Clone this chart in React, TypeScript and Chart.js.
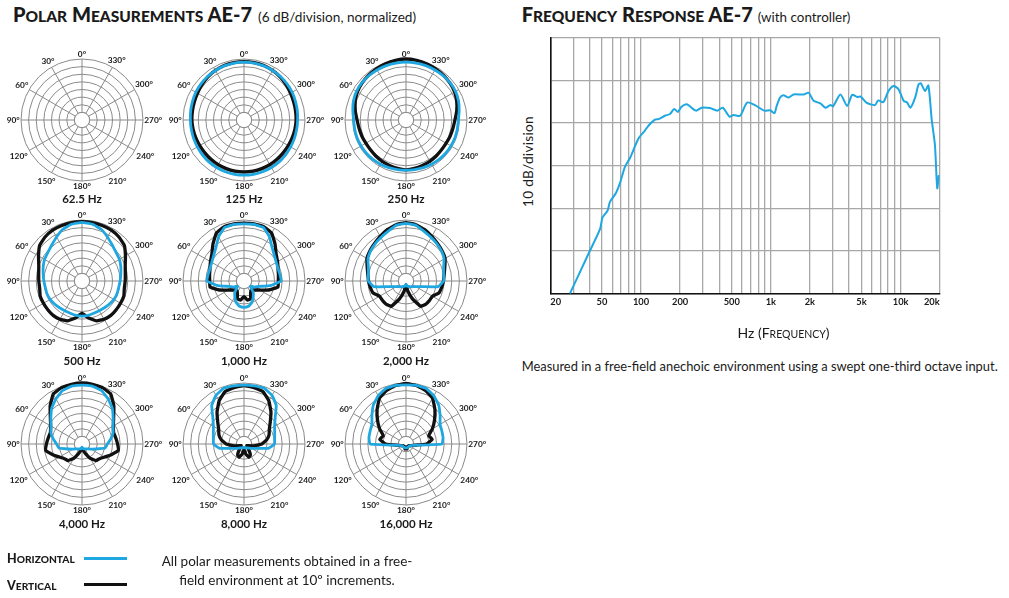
import React, { useEffect, useRef } from "react";
import { Chart, registerables } from "chart.js";

Chart.register(...registerables);

const BLUE = "#1ea7e1";
const BLACK = "#111111";
const POLAR_GRID = "#8a8a8a";
const FR_GRID = "#a8a8a8";
const TEXT = "#1a1a1a";
const FONT = "Lato, 'Noto Sans', sans-serif";

// ---------- polar data: dB relative to on-axis, angles 0..350 (counter-clockwise from top) ----------
const ANGLES = [0, 10, 20, 30, 40, 50, 60, 70, 80, 90, 100, 110, 120, 130, 140, 150, 160, 170, 180, 190, 200, 210, 220, 230, 240, 250, 260, 270, 280, 290, 300, 310, 320, 330, 340, 350];
const SPOKE_EVERY = 3; // a spoke and a label every 30°
const RING_MIN = -48;
const RING_MAX = 0;
const RING_STEP = 6;

const H_62: number[] = [];
const V_62: number[] = [];

const H_125 = [-2.5, -2.5, -2.7, -3, -3.4, -3.8, -4.3, -4.9, -5.4, -5.8, -5.9, -5.8, -5.6, -5.3, -5, -4.8, -4.7, -4.6, -4.6, -4.6, -4.7, -4.8, -5, -5.3, -5.6, -5.8, -5.9, -5.8, -5.4, -4.9, -4.3, -3.8, -3.4, -3, -2.7, -2.5];
const V_125 = [-2, -2.1, -2.4, -3, -3.8, -4.8, -5.8, -6.4, -6.8, -7, -7.3, -7.6, -7.8, -7.8, -7.6, -7.4, -7.3, -7.2, -7.2, -7.2, -7.3, -7.4, -7.6, -7.8, -7.8, -7.6, -7.3, -7, -6.8, -6.4, -5.8, -4.8, -3.8, -3, -2.4, -2.1];

const H_250 = [-2.5, -2.5, -2.5, -2.5, -2.5, -2.6, -3, -4, -5.5, -6.8, -7, -7, -7.2, -7.3, -7.5, -7.8, -8.1, -8.4, -8.5, -8.4, -8.1, -7.8, -7.5, -7.3, -7.2, -7, -7, -6.8, -5.5, -4, -3, -2.6, -2.5, -2.5, -2.5, -2.5];
const V_250 = [0, -0.3, -0.8, -1.5, -2.1, -2.8, -3.8, -5.5, -7.5, -9.5, -10.5, -11, -11.5, -11.5, -11, -10.5, -10, -9.3, -8.8, -9.3, -10, -10.5, -11, -11.5, -11.5, -11, -10.5, -9.5, -7.5, -5.5, -3.8, -2.8, -2.1, -1.5, -0.8, -0.3];

const H_500 = [-1.8, -2.5, -4.5, -8, -11, -13, -14, -15.5, -17, -18, -18.7, -18.7, -19, -19.8, -20.5, -21, -21, -20.5, -20.3, -20.5, -21, -21, -20.5, -19.8, -19, -18.7, -18.7, -18, -17, -15.5, -14, -13, -11, -8, -4.5, -2.5];
const V_500 = [-1.3, -1.3, -1.5, -1.8, -2.8, -4.5, -8.5, -11.8, -13.4, -14, -14.2, -13, -13, -12.9, -12.7, -13.2, -14.6, -18.5, -22.5, -18.5, -14.6, -13.2, -12.7, -12.9, -13, -13, -14.2, -14, -13.4, -11.8, -8.5, -4.5, -2.8, -1.8, -1.5, -1.3];

const H_1K = [-3, -2.8, -3.2, -8, -13.6, -16.8, -18.7, -19.5, -19.3, -18.8, -27, -35.5, -38.5, -41.5, -37, -33.5, -30, -27.8, -27.3, -27.8, -30, -33.5, -37, -41.5, -38.5, -35.5, -27, -18.8, -19.3, -19.5, -18.7, -16.8, -13.6, -8, -3.2, -2.8];
const V_1K = [-2.5, -2.3, -2.5, -4.5, -10, -15, -17.5, -19.5, -20.5, -21, -20.8, -27.3, -33.8, -37, -38.8, -37.5, -33, -32.8, -35.7, -32.8, -33, -37.5, -38.8, -37, -33.8, -27.3, -20.8, -21, -20.5, -19.5, -17.5, -15, -10, -4.5, -2.5, -2.3];

const H_2K = [-2.6, -3.5, -6.5, -8.5, -10, -11.5, -13.4, -16.5, -17.9, -18.4, -22.3, -35, -39, -41, -42, -43, -43.5, -44, -45.5, -44, -43.5, -43, -42, -41, -39, -35, -22.3, -18.4, -17.9, -16.5, -13.4, -11.5, -10, -8.5, -6.5, -3.5];
const V_2K = [-2, -3, -5, -7.5, -9.5, -11, -12.5, -15.5, -17.5, -18.5, -19.5, -20.5, -24, -24, -24, -25, -33, -40, -45, -40, -33, -25, -24, -24, -24, -20.5, -19.5, -18.5, -17.5, -15.5, -12.5, -11, -9.5, -7.5, -5, -3];

const H_4K = [-1.6, -1.7, -3.2, -7, -11, -16, -19.8, -22, -25, -28, -29.5, -36.5, -40, -42, -43, -43.5, -44, -44.5, -45.5, -44.5, -44, -43.5, -43, -42, -40, -36.5, -29.5, -28, -25, -22, -19.8, -16, -11, -7, -3.2, -1.7];
const V_4K = [0, -0.3, -0.8, -2.7, -9, -15.5, -19.5, -21.5, -21, -20, -19, -23.5, -27.5, -30, -31, -35, -40, -43, -45, -43, -40, -35, -31, -30, -27.5, -23.5, -19, -20, -21, -21.5, -19.5, -15.5, -9, -2.7, -0.8, -0.3];

const H_8K = [-1.6, -1.5, -1.4, -3.8, -8.5, -16, -20.2, -22.3, -23.5, -24, -28.5, -38, -41, -43, -44, -44.5, -45, -45, -45.5, -45, -45, -44.5, -44, -43, -41, -38, -28.5, -24, -23.5, -22.3, -20.2, -16, -8.5, -3.8, -1.4, -1.5];
const V_8K = [-2, -2.9, -4.2, -8.9, -15, -21, -25, -27, -30, -34, -40, -44, -45.5, -45, -42, -38, -37, -40, -44, -40, -37, -38, -42, -45, -45.5, -44, -40, -34, -30, -27, -25, -21, -15, -8.9, -4.2, -2.9];

const H_16K = [-1.5, -1.2, -1.5, -4.2, -8, -13, -17, -18, -18.4, -19.7, -42, -44.5, -45, -45, -45, -45, -45, -45, -45, -45, -45, -45, -45, -45, -45, -44.5, -42, -19.7, -18.4, -18, -17, -13, -8, -4.2, -1.5, -1.2];
const V_16K = [-0.3, -1.2, -3.2, -6.3, -12.6, -18.7, -24, -29, -27, -32, -42, -44, -45.5, -45.5, -45.5, -45.5, -45, -44, -46, -44, -45, -45.5, -45.5, -45.5, -45.5, -44, -42, -32, -27, -29, -24, -18.7, -12.6, -6.3, -3.2, -1.2];

const PANEL_TITLES = ["62.5 Hz", "125 Hz", "250 Hz", "500 Hz", "1,000 Hz", "2,000 Hz", "4,000 Hz", "8,000 Hz", "16,000 Hz"];
const PANEL_H = [H_62, H_125, H_250, H_500, H_1K, H_2K, H_4K, H_8K, H_16K];
const PANEL_V = [V_62, V_125, V_250, V_500, V_1K, V_2K, V_4K, V_8K, V_16K];
const COL_X = [82, 244, 406];
const ROW_Y = [120, 281, 444];
const TITLE_TOP = [192.7, 354.7, 517.7];

// ---------- frequency response data ----------
const FREQ_HZ = [28.3, 39.3, 48.3, 50.4, 55.3, 57.6, 64.1, 68.8, 75.3, 82.2, 95.4, 107, 115.8, 128, 136, 153, 167, 180, 192, 205, 225, 265, 293, 340, 388, 426, 480, 516, 579, 658, 754, 890, 986, 1066, 1110, 1178, 1252, 1370, 1498, 1790, 1958, 2137, 2407, 2632, 2878, 3017, 3437, 3872, 4238, 4634, 4920, 5440, 6340, 6720, 7360, 8060, 8820, 9640, 10560, 11220, 11900, 12950, 13720, 14300, 15440, 16360, 17340, 18380, 19140, 19700];
const FREQ_DB = [0, 9.3, 15.1, 17.8, 19.5, 21.5, 23.6, 25.9, 29.8, 31.8, 36.3, 38.2, 39.6, 40.8, 40.9, 41.7, 42.1, 43.3, 42.6, 43.8, 44.4, 42.9, 43.6, 43.5, 42.9, 43.6, 41.5, 41.9, 41.7, 44.8, 44.2, 42.9, 43.0, 42.3, 44.0, 46.0, 46.5, 46.0, 46.7, 46.7, 47.1, 45.2, 44.6, 43.6, 44.2, 43.9, 46.7, 44.0, 46.6, 46.1, 46.2, 44.8, 44.2, 45.3, 44.9, 47.5, 48.7, 47.9, 45.2, 44.8, 43.6, 46.0, 49.0, 49.3, 47.5, 48.8, 40.9, 34.8, 24.7, 27.8];
const GRID_HZ = [20, 30, 40, 50, 60, 70, 80, 90, 100, 200, 300, 400, 500, 600, 700, 800, 900, 1000, 2000, 3000, 4000, 5000, 6000, 7000, 8000, 9000, 10000, 20000];
const XTICK_VALUES = [20, 50, 100, 200, 500, 1000, 2000, 5000, 10000, 20000];
const XTICK_TEXT = ["20", "50", "100", "200", "500", "1k", "2k", "5k", "10k", "20k"];

// ---------- plugins ----------
// white centre disc + 30° spokes that start at the disc edge
const holePlugin = {
  id: "hole",
  beforeDatasetsDraw(chart: any) {
    const s = chart.scales.r;
    const r0 = s.getDistanceFromCenterForValue(RING_MIN + RING_STEP);
    const R = s.getDistanceFromCenterForValue(RING_MAX);
    const n = chart.data.labels.length;
    const ctx = chart.ctx;
    ctx.save();
    ctx.beginPath();
    ctx.arc(s.xCenter, s.yCenter, r0, 0, Math.PI * 2);
    ctx.fillStyle = "#ffffff";
    ctx.fill();
    ctx.lineWidth = 1;
    ctx.strokeStyle = POLAR_GRID;
    ctx.stroke();
    ctx.beginPath();
    for (let i = 0; i < n; i += SPOKE_EVERY) {
      const p0 = s.getPointPosition(i, r0);
      const p1 = s.getPointPosition(i, R);
      ctx.moveTo(p0.x, p0.y);
      ctx.lineTo(p1.x, p1.y);
    }
    ctx.stroke();
    ctx.restore();
  },
};

const degreePlugin = {
  id: "degrees",
  afterDraw(chart: any) {
    const s = chart.scales.r;
    const ctx = chart.ctx;
    const labels = chart.data.labels as string[];
    const R = s.drawingArea;
    ctx.save();
    ctx.font = `bold 8.3px ${FONT}`;
    ctx.fillStyle = TEXT;
    ctx.textAlign = "center";
    ctx.textBaseline = "middle";
    for (let i = 0; i < labels.length; i += SPOKE_EVERY) {
      const a = s.getIndexAngle(i);
      const sx = Math.sin(a);
      const cy = Math.cos(a);
      const w = ctx.measureText(labels[i]).width;
      const h = 6;
      const off = R + 1.3 + Math.abs(sx) * w / 2 + Math.abs(cy) * h / 2 + (cy < -0.1 ? 1.5 : 0);
      ctx.fillText(labels[i], s.xCenter + sx * off, s.yCenter - cy * off);
    }
    ctx.restore();
  },
};

function reorder(arr: number[]) {
  // radar runs clockwise; the reference angles run counter-clockwise
  return arr.length ? ANGLES.map((_, i) => arr[(36 - i) % 36]) : [];
}

function Polar({ title, h, v, cx, cy, titleTop }: any) {
  const ref = useRef<HTMLCanvasElement>(null);
  useEffect(() => {
    const labels = ANGLES.map((_, i) => ANGLES[(36 - i) % 36] + "°");
    const chart = new Chart(ref.current as HTMLCanvasElement, {
      type: "radar",
      data: {
        labels,
        datasets: [
          { label: "Horizontal", data: reorder(h), borderColor: BLUE, borderWidth: 2.8, pointRadius: 0, fill: false, tension: 0.1, borderJoinStyle: "round" } as any,
          { label: "Vertical", data: reorder(v), borderColor: BLACK, borderWidth: 3.3, pointRadius: 0, fill: false, tension: 0.1, borderJoinStyle: "round" } as any,
        ],
      },
      options: {
        responsive: false,
        animation: false,
        layout: { padding: { left: 19, right: 19, top: 14, bottom: 14 } },
        plugins: { legend: { display: false }, tooltip: { enabled: false } },
        scales: {
          r: {
            min: RING_MIN,
            max: RING_MAX,
            ticks: { display: false, stepSize: RING_STEP },
            grid: { color: POLAR_GRID, lineWidth: 1, circular: true },
            angleLines: { display: false },
            pointLabels: { display: false },
          },
        },
      } as any,
      plugins: [holePlugin, degreePlugin],
    });
    return () => chart.destroy();
  }, []);
  return (
    <>
      <canvas ref={ref} width={160} height={150} style={{ position: "absolute", left: cx - 80, top: cy - 75, width: 160, height: 150 }} />
      <div style={{ position: "absolute", left: cx - 60, width: 120, top: titleTop, textAlign: "center", fontSize: 11.5, lineHeight: "12px", fontWeight: 700, color: TEXT }}>{title}</div>
    </>
  );
}

function FreqChart() {
  const ref = useRef<HTMLCanvasElement>(null);
  useEffect(() => {
    const chart = new Chart(ref.current as HTMLCanvasElement, {
      type: "line",
      data: {
        datasets: [
          {
            label: "AE-7",
            data: FREQ_HZ.map((x, i) => ({ x, y: FREQ_DB[i] })),
            borderColor: BLUE,
            borderWidth: 2,
            pointRadius: 0,
            fill: false,
            tension: 0.25,
          },
        ],
      },
      options: {
        responsive: false,
        animation: false,
        layout: { padding: { left: 10.3, right: 10.3, top: 7.7, bottom: 19.2 } },
        plugins: { legend: { display: false }, tooltip: { enabled: false } },
        scales: {
          x: {
            type: "logarithmic",
            min: 20,
            max: 20000,
            afterBuildTicks: (s: any) => {
              s.ticks = GRID_HZ.map((value) => ({ value }));
            },
            ticks: {
              autoSkip: false,
              maxRotation: 0,
              minRotation: 0,
              align: "inner",
              padding: 3,
              color: TEXT,
              font: { family: FONT, size: 9.3, weight: "bold" },
              callback: (val: any) => {
                const k = XTICK_VALUES.indexOf(Number(val));
                return k >= 0 ? XTICK_TEXT[k] : "";
              },
            },
            grid: { color: FR_GRID, lineWidth: 1.3, drawTicks: false },
            border: { color: BLACK, width: 1.6 },
          },
          y: {
            min: 0,
            max: 60,
            ticks: { display: false, stepSize: 10 },
            grid: { color: FR_GRID, lineWidth: 1.3, drawTicks: false },
            border: { color: BLACK, width: 1.6 },
          },
        },
      } as any,
    });
    return () => chart.destroy();
  }, []);
  return <canvas ref={ref} width={410} height={300} style={{ position: "absolute", left: 540, top: 30, width: 410, height: 300 }} />;
}

function SmallCaps({ t, big, small }: { t: string; big: number; small: number }) {
  return (
    <>
      {t.split(" ").map((w, i) => (
        <React.Fragment key={i}>
          {i > 0 ? " " : ""}
          <span style={{ fontSize: big }}>{w[0]}</span>
          <span style={{ fontSize: small }}>{w.slice(1).toUpperCase()}</span>
        </React.Fragment>
      ))}
    </>
  );
}

export default function App() {
  return (
    <div style={{ position: "absolute", left: 0, top: 0, width: 1009, height: 598, background: "#fff", fontFamily: FONT, color: TEXT, overflow: "hidden" }}>
      {/* left heading */}
      <div style={{ position: "absolute", left: 13, top: 4.3, fontSize: 20, lineHeight: "20px", fontWeight: 900, whiteSpace: "nowrap" }}>
        <SmallCaps t="Polar Measurements" big={20} small={15.5} /> AE-7
        <span style={{ fontSize: 13.6, fontWeight: 400, marginLeft: 6 }}>(6 dB/division, normalized)</span>
      </div>
      {/* right heading */}
      <div style={{ position: "absolute", left: 521.7, top: 4.3, fontSize: 20, lineHeight: "20px", fontWeight: 900, whiteSpace: "nowrap" }}>
        <SmallCaps t="Frequency Response" big={20} small={15.5} /> AE-7
        <span style={{ fontSize: 13.4, fontWeight: 400, marginLeft: 5 }}>(with controller)</span>
      </div>

      {PANEL_TITLES.map((title, k) => (
        <Polar key={k} title={title} h={PANEL_H[k]} v={PANEL_V[k]} cx={COL_X[k % 3]} cy={ROW_Y[Math.floor(k / 3)]} titleTop={TITLE_TOP[Math.floor(k / 3)]} />
      ))}

      <FreqChart />

      {/* axis titles */}
      <div style={{ position: "absolute", left: 463, top: 153.2, width: 130, height: 17, lineHeight: "17px", textAlign: "center", fontSize: 13.6, letterSpacing: 0.3, transform: "rotate(-90deg)", whiteSpace: "nowrap" }}>10 dB/division</div>
      <div style={{ position: "absolute", left: 683.5, top: 326.2, width: 200, lineHeight: "14px", textAlign: "center", fontSize: 14, whiteSpace: "nowrap" }}>
        Hz (<span style={{ fontSize: 14 }}>F</span><span style={{ fontSize: 10.5 }}>REQUENCY</span>)
      </div>
      <div style={{ position: "absolute", left: 521.7, top: 359.4, lineHeight: "15px", fontSize: 12.9, whiteSpace: "nowrap" }}>
        Measured in a free-field anechoic environment using a swept one-third octave input.
      </div>

      {/* legend */}
      <div style={{ position: "absolute", left: 7, top: 553, fontSize: 12.5, lineHeight: "12px", fontWeight: 900, whiteSpace: "nowrap" }}>
        <SmallCaps t="Horizontal" big={12.5} small={10.2} />
      </div>
      <div style={{ position: "absolute", left: 84, top: 557.3, width: 43, height: 3, background: BLUE }} />
      <div style={{ position: "absolute", left: 7, top: 579.7, fontSize: 12.5, lineHeight: "12px", fontWeight: 900, whiteSpace: "nowrap" }}>
        <SmallCaps t="Vertical" big={12.5} small={10.2} />
      </div>
      <div style={{ position: "absolute", left: 84, top: 583.3, width: 43, height: 3, background: BLACK }} />

      <div style={{ position: "absolute", left: 137, top: 552, width: 300, textAlign: "center", fontSize: 13.5, lineHeight: "19px", whiteSpace: "nowrap" }}>
        All polar measurements obtained in a free-
        <br />
        field environment at 10º increments.
      </div>
    </div>
  );
}
